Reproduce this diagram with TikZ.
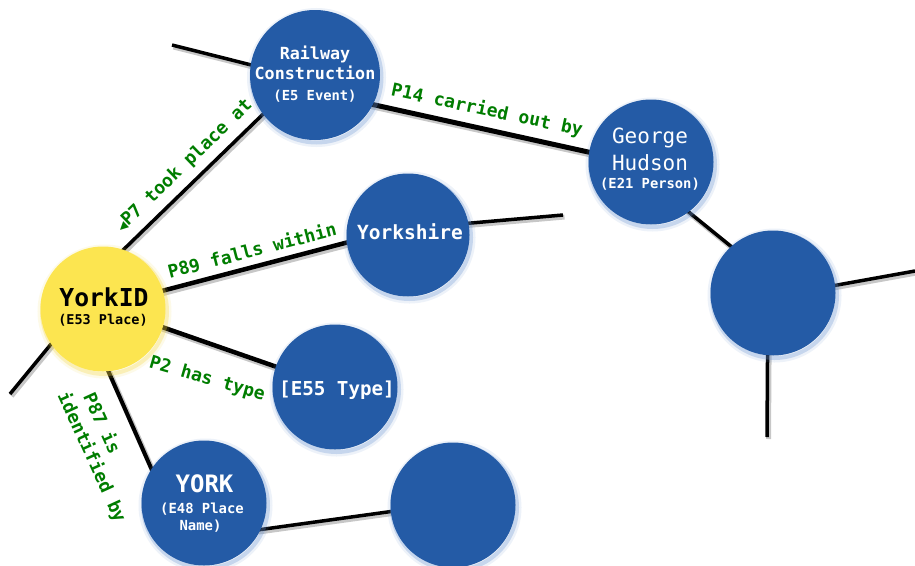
\documentclass[tikz,border=0pt]{standalone}
\usepackage{fontspec}
\setmonofont{DejaVu Sans Mono}
\newfontfamily\symfont{DejaVu Sans}
\definecolor{nodeblue}{RGB}{36,91,166}
\definecolor{glowblue}{RGB}{110,150,210}
\definecolor{yorkyellow}{RGB}{252,229,80}
\definecolor{glowyellow}{RGB}{245,215,70}
\definecolor{lblgreen}{RGB}{0,125,0}
\newcommand{\myfs}[1]{\fontsize{#1}{#1}\selectfont}
\pgfdeclarelayer{bg}
\pgfsetlayers{bg,main}
\begin{document}
\begin{tikzpicture}[x=1pt,y=-1pt,
  glow/.style={
    preaction={draw=#1, line width=9pt, opacity=0.12, transform canvas={xshift=1.5pt,yshift=-2.5pt}},
    preaction={draw=#1, line width=4pt, opacity=0.3, transform canvas={xshift=1.5pt,yshift=-2.5pt}}},
  bnode/.style={circle, fill=nodeblue, minimum size=125pt, inner sep=0pt, glow=glowblue},
  ynode/.style={circle, fill=yorkyellow, minimum size=125pt, inner sep=0pt, glow=glowyellow},
  conn/.style={draw=black, line width=#1, shorten <=-4pt, shorten >=-4pt,
    preaction={draw=black, opacity=0.22, line width=#1+1.5pt, transform canvas={xshift=1.5pt,yshift=-2pt}}},
  freeconn/.style={draw=black, line width=#1, shorten <=-4pt,
    preaction={draw=black, opacity=0.22, line width=#1+1.5pt, transform canvas={xshift=1.5pt,yshift=-2pt}}},
  tw/.style={anchor=base, inner sep=0pt, text=white, font=\ttfamily\bfseries\myfs{#1}},
  twr/.style={anchor=base, inner sep=0pt, text=white, font=\ttfamily\myfs{#1}},
  tb/.style={anchor=base, inner sep=0pt, text=black, font=\ttfamily\bfseries\myfs{#1}},
  lbl/.style={inner sep=0pt, text=lblgreen, font=\ttfamily\bfseries\myfs{18}}
]
\useasboundingbox (0,0) rectangle (915,565);

% circles
\node[bnode, minimum size=130pt] (rc) at (315,75) {};
\node[bnode] (gh) at (651,162) {};
\node[bnode, minimum size=123pt] (ys) at (408,235) {};
\node[bnode] (br) at (773,293) {};
\node[ynode] (yid) at (103,309) {};
\node[bnode] (e55) at (335,387) {};
\node[bnode] (york) at (204,503) {};
\node[bnode] (bot) at (453,505) {};

% free ends
\coordinate (rcfree) at (172,45);
\coordinate (ysfree) at (563,215);
\coordinate (brfree) at (915,271);
\coordinate (brdown) at (767,437);
\coordinate (yidfree) at (10,394);

\begin{pgfonlayer}{bg}
\fill[white] (0,0) rectangle (915,565);
\path[freeconn=3.5pt] (rc.171) -- (rcfree);
\path[conn=5pt] (rc.-27) -- (gh.171);
\path[conn=3.5pt] (yid.71) -- (rc.217);
\path[conn=4.5pt] (yid.17.6) -- (ys.187.5);
\path[freeconn=3.5pt] (ys.11) -- (ysfree);
\path[conn=3.5pt] (gh.-53) -- (br.132);
\path[freeconn=3.5pt] (br.7.4) -- (brfree);
\path[freeconn=3.5pt] (br.-95.4) -- (brdown);
\path[conn=4.5pt] (yid.-17.6) -- (e55.161);
\path[freeconn=3.5pt] (yid.-146) -- (yidfree);
\path[conn=4pt] (yid.-85.5) -- (york.147.6);
\path[conn=3.5pt] (york.-25) -- (bot.186.5);
\end{pgfonlayer}

% node texts
\node[tw=16.7] (rct1) at (315,59.5) {Railway};
\node[tw=16.7] (rct2) at (315,79.3) {Construction};
\node[tw=13.8] (rct3) at (315,100) {(E5 Event)};
\node[twr=21] (ght1) at (650,143.3) {George};
\node[twr=21] (ght2) at (650,170) {Hudson};
\node[tw=13.8] (ght3) at (650,188.5) {(E21 Person)};
\node[tw=19.5] (yst) at (410,239.3) {Yorkshire};
\node[tw=19.2] (e55t) at (337,395) {[E55 Type]};
\node[tb=24.7] (yidt1) at (104,306) {YorkID};
\node[tb=13.5] (yidt2) at (103,324.3) {(E53 Place)};
\node[tw=24] (yorkt1) at (204.5,492) {YORK};
\node[tw=13.9] (yorkt2) at (202,513) {(E48 Place};
\node[tw=13.9] (yorkt3) at (200.5,530) {Name)};

% connector labels
\node[lbl, rotate=44] (l7) at (184,166) {{\symfont\myfs{11}◀}P7 took place at};
\node[lbl, rotate=-12] (l14) at (487,110.5) {P14 carried out by};
\node[lbl, rotate=14.5] (l89) at (252,250) {P89 falls within};
\node[lbl, rotate=-16] (l2) at (207,379) {P2 has type};
\node[lbl, rotate=-65.5] (l87a) at (103,423) {P87 is};
\node[lbl, rotate=-65.5] (l87b) at (91.5,457.5) {identified by};
\end{tikzpicture}
\end{document}
